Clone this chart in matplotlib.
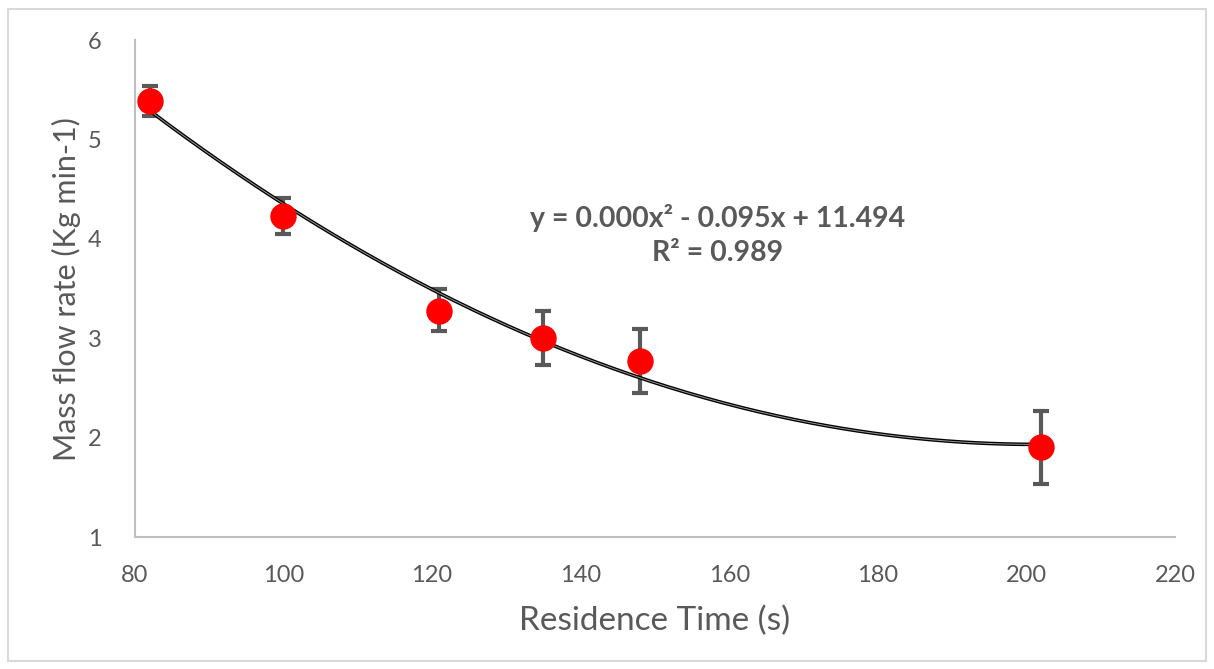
import numpy as np
import matplotlib
matplotlib.use("Agg")
import matplotlib.pyplot as plt
from matplotlib.patches import Rectangle

# Measured data
residence_time = [82, 100, 121, 135, 148, 202]
mass_flow = [5.39, 4.23, 3.28, 3.00, 2.77, 1.91]
err_upper = [0.15, 0.18, 0.22, 0.28, 0.32, 0.36]
err_lower = [0.15, 0.18, 0.21, 0.27, 0.32, 0.37]

# Polynomial trend (order 2)
coef_a = 0.000236
coef_b = -0.095
coef_c = 11.494
r_squared = 0.989

x_ticks = [80, 100, 120, 140, 160, 180, 200, 220]
y_ticks = [1, 2, 3, 4, 5, 6]

plt.rcParams['font.family'] = ['Lato', 'DejaVu Sans']
grey = '#595959'

fig = plt.figure(figsize=(12.14, 6.69), dpi=100)
ax = fig.add_axes([0.111, 0.197, 0.857, 0.743])

# Trendline
xs = np.linspace(min(residence_time), max(residence_time), 300)
ys = coef_a * xs**2 + coef_b * xs + coef_c
ax.plot(xs, ys, color='black', lw=2.6, zorder=3, solid_capstyle='butt')
ax.plot(xs, ys, color='white', lw=0.7, alpha=0.6, zorder=3.1)

# Error bars
ax.errorbar(residence_time, mass_flow, yerr=[err_lower, err_upper], fmt='none',
            ecolor=grey, elinewidth=3, capsize=6, capthick=3, zorder=2)
# Markers
ax.plot(residence_time, mass_flow, 'o', color='#FF0000', markersize=19,
        markeredgewidth=0, zorder=4)

ax.set_xlim(80, 220)
ax.set_ylim(1, 6)
ax.set_xticks(x_ticks)
ax.set_yticks(y_ticks)
ax.tick_params(axis='both', length=0, labelsize=17, labelcolor=grey)
ax.tick_params(axis='y', pad=24)
ax.tick_params(axis='x', pad=20)

for side in ['top', 'right']:
    ax.spines[side].set_visible(False)
for side in ['left', 'bottom']:
    ax.spines[side].set_color('#BFBFBF')
    ax.spines[side].set_linewidth(1.5)

ax.set_xlabel('Residence Time (s)', fontsize=24, color=grey, labelpad=14)
ax.set_ylabel('Mass flow rate (Kg min-1)', fontsize=22, color=grey, labelpad=5)

eq = f"y = {coef_a:.3f}x² - {abs(coef_b):.3f}x + {coef_c:.3f}\nR² = {r_squared:.3f}"
ax.text(0.5606, 0.608, eq, transform=ax.transAxes, ha='center', va='center',
        fontsize=20.5, fontweight='bold', color=grey, linespacing=1.4)

# Chart area border
fig.add_artist(Rectangle((8 / 1214, 8 / 669), 1198 / 1214, 652 / 669,
                         transform=fig.transFigure, fill=False,
                         edgecolor='#D9D9D9', lw=1.5))

fig.savefig('out.png', dpi=100, facecolor='white')
